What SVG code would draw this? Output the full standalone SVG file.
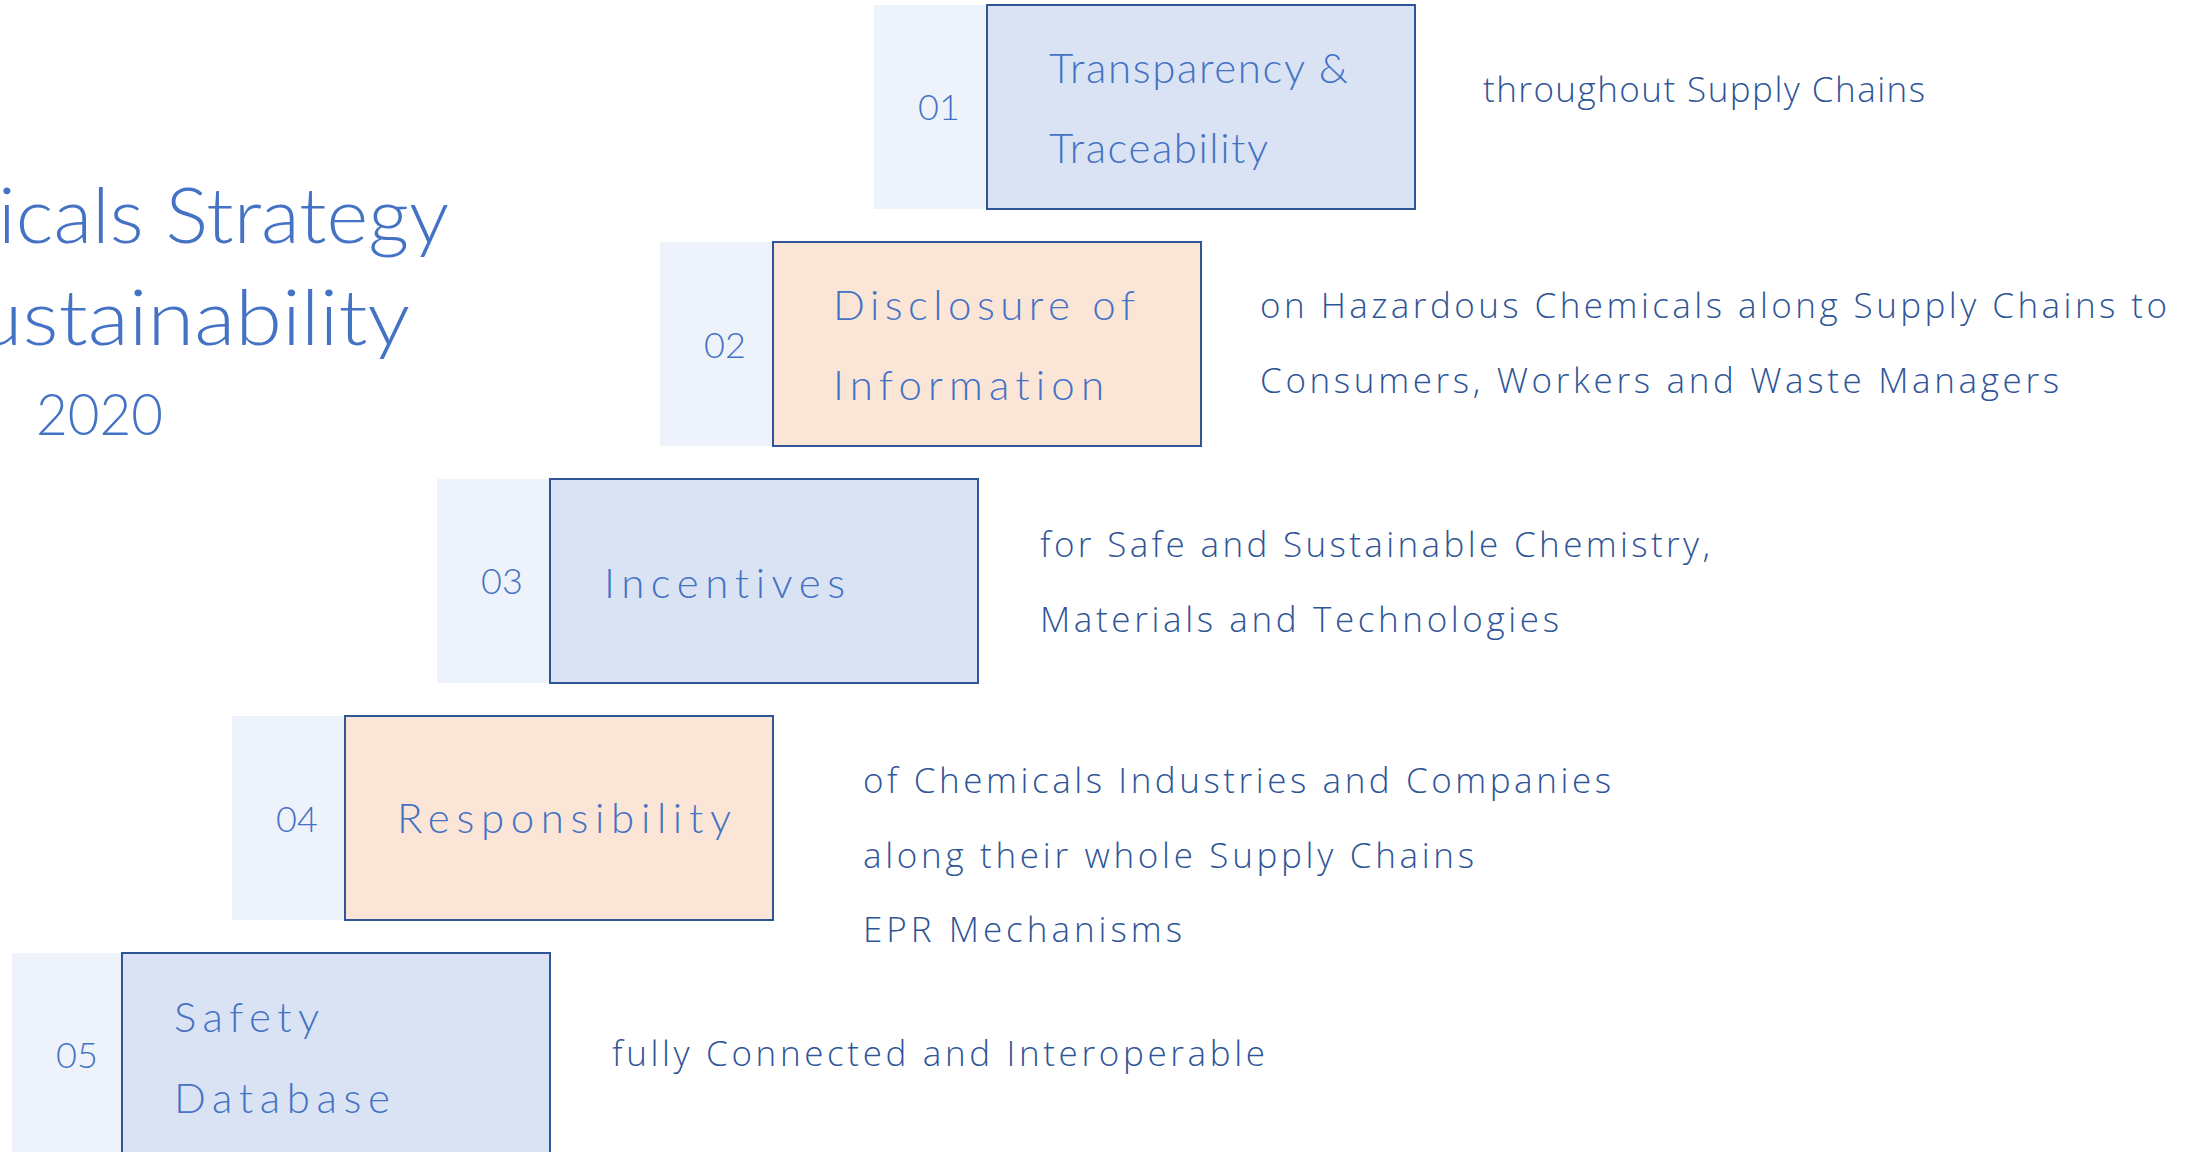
<svg xmlns="http://www.w3.org/2000/svg" width="2185" height="1152" viewBox="0 0 2185 1152">
<style>
  text { font-variant-ligatures: none; font-feature-settings: "liga" 0, "dlig" 0; }
  .bg { fill: #FFFFFF; }
  .pale { fill: #EEF2FA; }
  .boxb { fill: #DAE3F3; stroke: #2F5597; stroke-width: 2; }
  .boxo { fill: #FBE5D6; stroke: #2F5597; stroke-width: 2; }
  .lbl { font-family: Lato, "Liberation Sans", sans-serif; font-weight: 300; fill: #4472C4; font-size: 42px; }
  .num { font-family: Lato, "Liberation Sans", sans-serif; font-weight: 300; fill: #4472C4; font-size: 36px; text-anchor: middle; }
  .desc { font-family: "Open Sans", "Liberation Sans", sans-serif; font-weight: 300; fill: #2F5597; font-size: 35px; }
  .title { font-family: Lato, "Liberation Sans", sans-serif; font-weight: 300; fill: #4472C4; font-size: 76px; }
</style>
<rect class="bg" x="0" y="0" width="2185" height="1152"/>

<g id="title">
  <text class="title" x="-2" y="243" textLength="451" lengthAdjust="spacingAndGlyphs">icals Strategy</text>
  <text class="title" x="-24" y="345" textLength="434" lengthAdjust="spacingAndGlyphs">ustainability</text>
  <text class="title" x="36" y="435" style="font-size:58px" textLength="127" lengthAdjust="spacingAndGlyphs">2020</text>
</g>

<g id="connectors"></g>

<g id="node-01">
  <rect class="pale" x="874" y="5" width="200" height="204"/>
  <rect class="boxb" x="987" y="5" width="428" height="204"/>
  <text class="num" x="939" y="120">01</text>
  <text class="lbl" x="1049" y="83" textLength="299" lengthAdjust="spacing">Transparency &amp;</text>
  <text class="lbl" x="1049" y="163" textLength="219" lengthAdjust="spacing">Traceability</text>
  <text class="desc" x="1483" y="102" textLength="442" lengthAdjust="spacing">throughout Supply Chains</text>
</g>

<g id="node-02">
  <rect class="pale" x="660" y="242" width="200" height="204"/>
  <rect class="boxo" x="773" y="242" width="428" height="204"/>
  <text class="num" x="725" y="358">02</text>
  <text class="lbl" x="833" y="320" textLength="302" lengthAdjust="spacing">Disclosure of</text>
  <text class="lbl" x="833" y="400" textLength="271" lengthAdjust="spacing">Information</text>
  <text class="desc" x="1260" y="318" textLength="907" lengthAdjust="spacing">on Hazardous Chemicals along Supply Chains to</text>
  <text class="desc" x="1260" y="393" textLength="799" lengthAdjust="spacing">Consumers, Workers and Waste Managers</text>
</g>

<g id="node-03">
  <rect class="pale" x="437" y="479" width="200" height="204"/>
  <rect class="boxb" x="550" y="479" width="428" height="204"/>
  <text class="num" x="502" y="594">03</text>
  <text class="lbl" x="604" y="598" textLength="241" lengthAdjust="spacing">Incentives</text>
  <text class="desc" x="1040" y="557" textLength="670" lengthAdjust="spacing">for Safe and Sustainable Chemistry,</text>
  <text class="desc" x="1040" y="632" textLength="519" lengthAdjust="spacing">Materials and Technologies</text>
</g>

<g id="node-04">
  <rect class="pale" x="232" y="716" width="200" height="204"/>
  <rect class="boxo" x="345" y="716" width="428" height="204"/>
  <text class="num" x="297" y="832">04</text>
  <text class="lbl" x="397" y="833" textLength="334" lengthAdjust="spacing">Responsibility</text>
  <text class="desc" x="863" y="793" textLength="748" lengthAdjust="spacing">of Chemicals Industries and Companies</text>
  <text class="desc" x="863" y="868" textLength="611" lengthAdjust="spacing">along their whole Supply Chains</text>
  <text class="desc" x="863" y="942" textLength="319" lengthAdjust="spacing">EPR Mechanisms</text>
</g>

<g id="node-05">
  <rect class="pale" x="12" y="953" width="200" height="220"/>
  <rect class="boxb" x="122" y="953" width="428" height="220"/>
  <text class="num" x="77" y="1068">05</text>
  <text class="lbl" x="174" y="1032" textLength="145" lengthAdjust="spacing">Safety</text>
  <text class="lbl" x="174" y="1113" textLength="216" lengthAdjust="spacing">Database</text>
  <text class="desc" x="612" y="1066" textLength="653" lengthAdjust="spacing">fully Connected and Interoperable</text>
</g>
</svg>
